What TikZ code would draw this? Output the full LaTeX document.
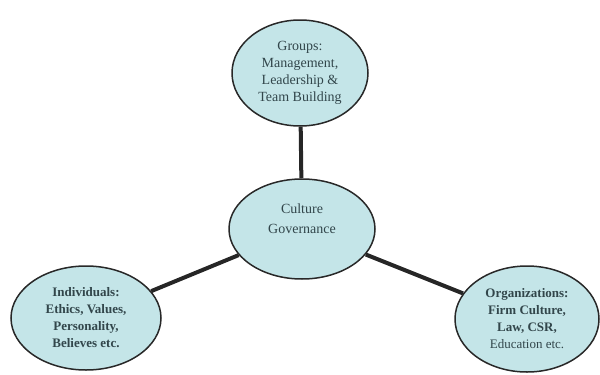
\documentclass[tikz,border=0pt]{standalone}
\usepackage{fontspec}
\setmainfont{Liberation Serif}
\usetikzlibrary{shapes.geometric}
\definecolor{bubble}{RGB}{196,229,232}
\definecolor{ink}{RGB}{40,40,40}
\definecolor{txt}{RGB}{50,70,75}
\begin{document}
\begin{tikzpicture}[x=1pt,y=-1pt,
  bubblenode/.style={ellipse, draw=ink, line width=1.5pt, fill=bubble,
    inner sep=0pt, align=center, text=txt,
    font=\fontsize{14}{17}\selectfont},
  link/.style={line width=4pt, draw=black!85}]
\useasboundingbox (0,0) rectangle (600,375);
\node[bubblenode, minimum width=136, minimum height=106] (groups) at (300,73)
  {Groups:\\Management,\\Leadership \&\\Team Building};
\node[bubblenode, minimum width=146, minimum height=100] (core) at (302,229)
  {};
\node[align=center, text=txt, font=\fontsize{14}{20}\selectfont] (coretext) at (302,219)
  {Culture\\Governance};
\node[bubblenode, minimum width=150, minimum height=104, font=\bfseries\fontsize{13}{17}\selectfont] (indiv) at (86,318)
  {Individuals:\\Ethics, Values,\\Personality,\\Believes etc.};
\node[bubblenode, minimum width=144, minimum height=106, font=\fontsize{13}{17}\selectfont] (org) at (527,319)
  {\textbf{Organizations:}\\\textbf{Firm Culture,}\\\textbf{Law, CSR,}\\Education etc.};
\draw[link] (groups) -- (core);
\draw[link] (core) -- (indiv);
\draw[link] (core) -- (org);
\end{tikzpicture}
\end{document}
